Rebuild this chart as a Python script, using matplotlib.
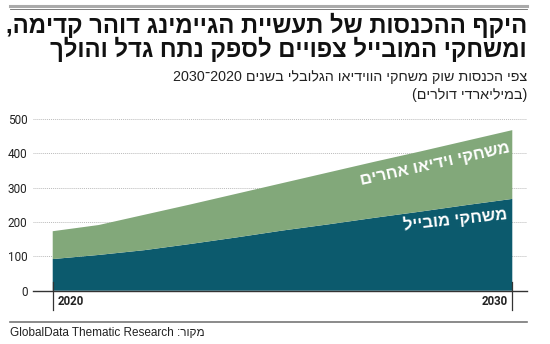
import re
import matplotlib
matplotlib.use("Agg")
import matplotlib.pyplot as plt
from matplotlib.lines import Line2D

# revenue forecast, billions of dollars
years = [2020, 2021, 2022, 2023, 2024, 2025, 2026, 2027, 2028, 2029, 2030]
mobile = [92, 104, 118, 136, 155, 175, 193, 212, 230, 249, 267]
total = [173, 191, 221, 251, 282, 313, 344, 375, 405, 436, 467]
yticks = [0, 100, 200, 300, 400, 500]

title = "היקף ההכנסות של תעשיית הגיימינג דוהר קדימה,\nומשחקי המובייל צפויים לספק נתח גדל והולך"
subtitle = "צפי הכנסות שוק משחקי הווידיאו הגלובלי בשנים 2020\u05be2030\n(במיליארדי דולרים)"
label_other = "משחקי וידיאו אחרים"
label_mobile = "משחקי מובייל"
source = "מקור: GlobalData Thematic Research"

TEAL = "#0c5a6d"
GREEN = "#82a87a"


def rtl(s):
    # crude visual ordering for hebrew: reverse, then put latin/digit runs back
    out = []
    for line in s.split("\n"):
        r = line[::-1]
        r = r.translate(str.maketrans("()", ")("))
        r = re.sub(r"[A-Za-z0-9][A-Za-z0-9 .]*[A-Za-z0-9]", lambda m: m.group(0)[::-1], r)
        out.append(r)
    return "\n".join(out)


fig = plt.figure(figsize=(5.5, 3.44), dpi=100)
ax = fig.add_axes([33 / 550, 1 - 290.7 / 344, 494 / 550, 175.7 / 344])

other = [t - m for t, m in zip(total, mobile)]
ax.stackplot(years, mobile, other, colors=[TEAL, GREEN], linewidth=0)

ax.set_xlim(2019.571, 2030.32)
ax.set_ylim(0, 511)
ax.set_yticks(yticks)
ax.set_yticklabels([str(v) for v in yticks], fontsize=8.5, color="#222222",
                   family="Roboto")
ax.tick_params(axis="y", length=0, pad=4)
ax.set_xticks([])
for y in yticks[1:]:
    ax.axhline(y, color="#bbbbbb", lw=0.7, ls=(0, (1, 1)), zorder=0)
ax.axhline(0, color="#333333", lw=1, zorder=3, clip_on=False)
for s in ax.spines.values():
    s.set_visible(False)

for yr, ha, dx in [(years[0], "left", 0.1), (years[-1], "right", -0.1)]:
    ax.plot([yr, yr], [25, -57], color="#333333", lw=0.9, clip_on=False, zorder=4)
    ax.text(yr + dx, -30, str(yr), ha=ha, va="center", fontsize=8.3,
            fontweight="bold", color="#222222", family="Roboto")

ax.text(2028.32, 369, rtl(label_other), rotation=12.5, ha="center", va="center",
        color="white", fontsize=12, fontweight="bold", family="Liberation Sans")
ax.text(2028.75, 209, rtl(label_mobile), rotation=6, ha="center", va="center",
        color="white", fontsize=12, fontweight="bold", family="Liberation Sans")

# header and footer
fig.add_artist(Line2D([10 / 550, 527 / 550], [1 - 5.5 / 344] * 2, color="#aaaaaa", lw=2.2))
fig.add_artist(Line2D([10 / 550, 527 / 550], [1 - 8.5 / 344] * 2, color="#666666", lw=0.6))
fig.text(527 / 550, 1 - 13 / 344, rtl(title), ha="right", va="top", fontsize=17.2,
         fontweight="bold", family="Liberation Sans", linespacing=0.92, color="#111111")
fig.text(527 / 550, 1 - 69.5 / 344, rtl(subtitle), ha="right", va="top", fontsize=10.3,
         family="Liberation Sans", linespacing=1.4, color="#222222")
fig.add_artist(Line2D([10 / 550, 527 / 550], [1 - 322 / 344] * 2, color="#777777", lw=1.2))
fig.text(10 / 550, 1 - 333 / 344, rtl(source), ha="left", va="center", fontsize=8.5,
         family="Liberation Sans", color="#222222")

fig.savefig("out.png", dpi=100)
